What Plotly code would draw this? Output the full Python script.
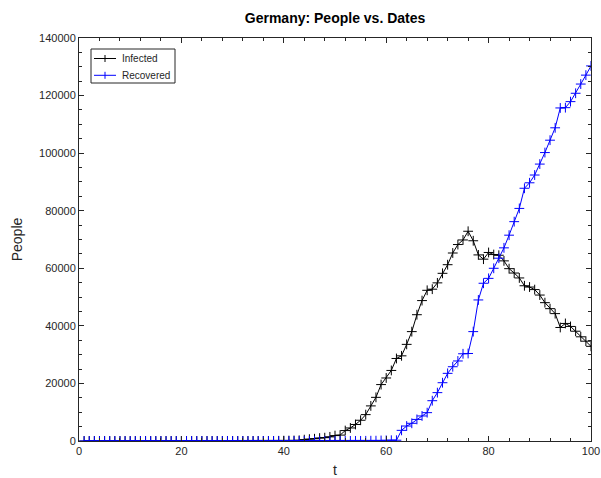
import plotly.graph_objects as go

# Day index (1..100)
t = list(range(1, 101))

# Active infected cases per day
infected = [
    0, 0, 0, 0, 0, 1, 4, 4, 4, 5,
    8, 10, 12, 12, 12, 12, 13, 13, 14, 14,
    2, 2, 2, 2, 2, 2, 2, 2, 2, 2,
    2, 2, 2, 2, 2, 11, 30, 32, 63, 114,
    143, 180, 244, 464, 652, 781, 1022, 1156, 1437, 1880,
    2050, 3622, 4530, 5738, 7209, 9166, 12194, 15163, 19601, 21896,
    24513, 28667, 29586, 33570, 37998, 43871, 48781, 52351, 52740, 54933,
    58252, 61247, 65309, 68248, 69839, 72864, 69566, 64647, 63167, 65491,
    64772, 64532, 62578, 59865, 58349, 56646, 53931, 53483, 52598, 50703,
    48058, 45969, 44254, 39439, 40836, 39794, 38132, 36198, 34672, 32886,
]

# Recovered cases per day
recovered = [
    0, 0, 0, 0, 0, 0, 0, 0, 0, 0,
    0, 0, 0, 0, 0, 0, 0, 0, 0, 0,
    12, 12, 12, 12, 12, 12, 12, 12, 12, 12,
    12, 12, 12, 12, 14, 16, 16, 16, 16, 16,
    16, 16, 18, 18, 18, 18, 18, 18, 18, 25,
    25, 46, 46, 46, 46, 67, 105, 113, 180, 233,
    266, 266, 3700, 5200, 6150, 7500, 8700, 9850, 14000, 16800,
    20250, 23500, 25800, 27800, 30300, 30400, 38000, 49000, 54800, 56500,
    60000, 63500, 67100, 71500, 76200, 80800, 87800, 89700, 92400, 96200,
    100200, 104500, 108800, 115700, 115800, 117900, 120800, 124000, 127100, 130300,
]

series_names = ["Infected", "Recovered"]
series_colors = ["#000000", "#0000ff"]

x_ticks = [0, 20, 40, 60, 80, 100]
y_ticks = [0, 20000, 40000, 60000, 80000, 100000, 120000, 140000]

FONT = "Liberation Sans, Arial, sans-serif"
AXIS_COLOR = "#262626"

# plot area in pixels (for placing the boxed legend in paper coords)
PLOT_L, PLOT_R, PLOT_T, PLOT_B = 79, 591, 38, 441


def px_x(p):
    return (p - PLOT_L) / (PLOT_R - PLOT_L)


def px_y(p):
    return (PLOT_B - p) / (PLOT_B - PLOT_T)


fig = go.Figure()

for name, values, color in zip(series_names, [infected, recovered], series_colors):
    fig.add_trace(go.Scatter(
        x=t, y=values, name=name, mode="lines+markers",
        line=dict(color=color, width=1),
        marker=dict(symbol="cross-thin", size=7,
                    line=dict(color=color, width=1), color=color),
        showlegend=False,
    ))

axis_common = dict(
    showline=True, linecolor=AXIS_COLOR, linewidth=1, mirror="allticks",
    ticks="inside", ticklen=5, tickcolor=AXIS_COLOR, tickwidth=1,
    showgrid=False, zeroline=False, automargin=False,
    tickfont=dict(family=FONT, size=11, color=AXIS_COLOR),
)

fig.update_xaxes(
    range=[0, 100], tickvals=x_ticks, ticktext=[str(v) for v in x_ticks],
    title=dict(text="t", font=dict(family=FONT, size=14, color=AXIS_COLOR), standoff=10),
    minor=dict(ticks="inside", ticklen=3, tickcolor=AXIS_COLOR, dtick=4, tick0=0),
    **axis_common,
)
fig.update_yaxes(
    range=[0, 140000], tickvals=y_ticks, ticktext=[str(v) for v in y_ticks],
    title=dict(text="People", font=dict(family=FONT, size=14, color=AXIS_COLOR), standoff=13),
    minor=dict(ticks="inside", ticklen=3, tickcolor=AXIS_COLOR, dtick=5000, tick0=0),
    **axis_common,
)

# Boxed legend in the upper-left corner
shapes = [dict(type="rect", xref="paper", yref="paper",
               x0=px_x(91), x1=px_x(175), y0=px_y(83), y1=px_y(49),
               line=dict(color=AXIS_COLOR, width=1), fillcolor="white", layer="above")]
annotations = []
for i, (name, color) in enumerate(zip(series_names, series_colors)):
    yc = 58.5 + i * 16.8
    shapes.append(dict(type="line", xref="paper", yref="paper",
                       x0=px_x(94), x1=px_x(116), y0=px_y(yc), y1=px_y(yc),
                       line=dict(color=color, width=1), layer="above"))
    shapes.append(dict(type="line", xref="paper", yref="paper",
                       x0=px_x(105), x1=px_x(105), y0=px_y(yc - 3.5), y1=px_y(yc + 3.5),
                       line=dict(color=color, width=1), layer="above"))
    annotations.append(dict(text=name, xref="paper", yref="paper",
                            x=px_x(120), y=px_y(yc), xanchor="left", yanchor="middle",
                            showarrow=False,
                            font=dict(family=FONT, size=10, color=AXIS_COLOR)))

fig.update_layout(
    width=601, height=478,
    margin=dict(l=79, r=10, t=38, b=37, pad=0),
    paper_bgcolor="white", plot_bgcolor="white",
    title=dict(text="<b>Germany: People vs. Dates</b>", x=0.5575, xanchor="center",
               y=0.963, yanchor="middle",
               font=dict(family=FONT, size=14, color="#000000")),
    shapes=shapes,
    annotations=annotations,
    showlegend=False,
)

fig.write_html("out.html")
